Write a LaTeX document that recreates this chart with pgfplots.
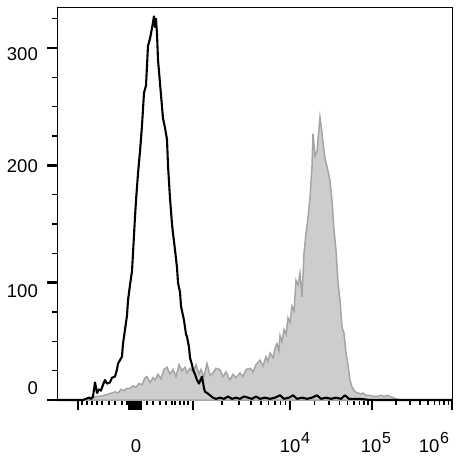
\documentclass[border=0pt]{standalone}
\usepackage{pgfplots}
\pgfplotsset{compat=1.18}
\usepackage{fontspec}
\setmainfont{Liberation Sans}
\definecolor{gfill}{RGB}{205,205,205}
\definecolor{gline}{RGB}{165,165,165}
\newcommand{\expo}[1]{\kern0.8bp\raisebox{9bp}{\fontsize{16bp}{16bp}\selectfont #1}}
\begin{document}
\begin{tikzpicture}
\useasboundingbox (0,0) rectangle (465bp,461bp);
\begin{axis}[
  at={(57bp,61bp)}, anchor=south west,
  scale only axis, width=395bp, height=393bp,
  xmin=57, xmax=452, ymin=0, ymax=335,
  clip=false,
  axis line style={line width=0.8bp},
  tick align=outside,
  xtick pos=bottom, ytick pos=left,
  tick label style={font=\fontsize{18.5bp}{20bp}\selectfont},
  xtick={136,295,376,434},
  xticklabels={0, 10\expo{4}, 10\expo{5}, 10\expo{6}},
  ytick={10.2,93,199,295},
  yticklabels={0,100,200,300},
  major tick length=0pt,
  minor tick length=4.5bp,
  minor tick style={line width=1.5bp, black},
  xticklabel style={anchor=base, yshift=-52bp},
  yticklabel style={anchor=east, inner sep=0pt, xshift=-19bp},
  extra x ticks={78,129,131,133,135,137,139,141,193,290,372,452},
  extra x tick labels={},
  extra x tick style={major tick length=10bp, major tick style={line width=2.6bp, black}},
  extra y ticks={0,100,200,300},
  extra y tick labels={},
  extra y tick style={major tick length=10bp, major tick style={line width=2.6bp, black}},
  minor xtick={82,87,92,97,102,109,115,122,127,147,153,160,166,172,175,180,184,188,222,239,251,261,268.5,275,280.6,285.6,314.7,329,339.4,347.3,353.8,359.3,364,368.2,396,410.2,420.2,428,434.3,439.6,444.2,448.3},
  minor ytick={25,50,75,125,150,175,225,250,275,325},
]
\addplot[fill=gfill, draw=gline, line width=1.5bp] coordinates {
(57,0) (88,0) (92,1) (96,3) (100,3) (104,4) (108,5) (112,6) (115,7) (118,6)
(121,9) (124,8) (127,10) (130,10) (133,12) (136,11) (139,14) (142,13) (145,19) (147,20)
(150,15) (153,19) (155,17) (158,22) (161,18) (164,26) (167,28) (170,22) (173,26) (176,20)
(179,30) (182,25) (185,28) (187,23) (190,27) (193,24) (196,30) (199,22) (201,26) (204,20)
(207,31) (210,21) (213,23) (216,27) (220,26) (223,20) (226,24) (230,17) (233,22) (236,19)
(240,23) (243,20) (246,26) (250,27) (253,24) (256,30) (260,34) (263,29) (266,37) (268,33)
(270,40) (273,36) (275,44) (277,48) (279,42) (280,55) (282,50) (284,60) (286,56) (288,70)
(290,66) (292,80) (294,76) (296,102) (298,98) (300,108) (302,88) (304,125) (306,142) (308,155)
(310,173) (312,199) (313,227) (315,208) (317,212) (318,222) (320,241) (322,228) (323,219) (325,206)
(327,199) (330,187) (332,170) (334,145) (336,128) (338,100) (340,85) (342,62) (344,57) (346,40)
(348,30) (350,17) (352,11) (355,7) (358,6) (361,5) (363,6) (366,4) (370,4) (374,3)
(377,3) (381,4) (384,3) (387,4) (390,3) (393,2) (396,1) (400,0) (452,0)
} \closedcycle;
\addplot[black, line width=2.1bp, line join=round] coordinates {
(57,0) (83,0) (86,1) (89,2) (91,1) (93,3) (95,15) (97,6) (99,9) (101,8)
(103,13) (105,17) (107,14) (110,15) (112,19) (115,20) (117,26) (118,31) (120,34) (122,37)
(123,48) (125,60) (127,72) (128,85) (130,98) (132,110) (133,125) (135,156) (136,170) (138,193)
(140,212) (142,234) (143,248) (144,262) (146,268) (148,302) (150,308) (152,317) (153,322) (154,327)
(155,318) (156,325) (157,312) (158,290) (160,270) (162,250) (163,240) (165,232) (167,222) (168,200)
(170,172) (172,150) (173,142) (175,128) (177,113) (178,100) (180,92) (181,80) (183,72) (184,68)
(186,56) (187,54) (189,45) (190,36) (192,30) (193,26) (195,22) (197,17) (199,14) (202,20)
(204,10) (205,7) (207,6) (210,4) (213,2) (216,1) (220,2) (224,1) (228,3) (232,1)
(236,2) (240,1) (244,3) (248,2) (252,1) (256,3) (260,1) (265,2) (270,1) (275,2)
(280,4) (284,1) (289,2) (293,4) (297,1) (302,2) (307,1) (312,2) (317,4) (321,1)
(326,2) (331,1) (336,2) (341,1) (345,4) (349,1) (354,1) (360,1) (370,0) (452,0)
};
\end{axis}
\end{tikzpicture}
\end{document}
